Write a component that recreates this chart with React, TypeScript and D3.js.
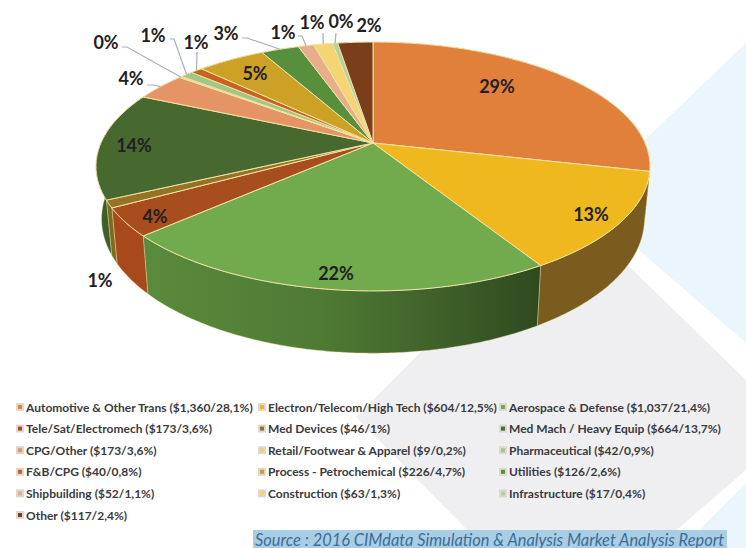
import React from "react";
import * as d3 from "d3";

// Sector names and their spend, in the order they run clockwise from twelve o'clock.
const sectors = [
  "Automotive & Other Trans", "Electron/Telecom/High Tech", "Aerospace & Defense",
  "Tele/Sat/Electromech", "Med Devices", "Med Mach / Heavy Equip",
  "CPG/Other", "Retail/Footwear & Apparel", "Pharmaceutical",
  "F&B/CPG", "Process - Petrochemical", "Utilities",
  "Shipbuilding", "Construction", "Infrastructure",
  "Other",
];
const spend = [1360, 604, 1037, 173, 46, 664, 173, 9, 42, 40, 226, 126, 52, 63, 17, 117];
const legendNotes = [
  "($1,360/28,1%)", "($604/12,5%)", "($1,037/21,4%)",
  "($173/3,6%)", "($46/1%)", "($664/13,7%)",
  "($173/3,6%)", "($9/0,2%)", "($42/0,9%)",
  "($40/0,8%)", "($226/4,7%)", "($126/2,6%)",
  "($52/1,1%)", "($63/1,3%)", "($17/0,4%)",
  "($117/2,4%)",
];

const topColors = [
  "#e1803b", "#efb81f", "#72ab4e", "#a84e1e", "#957325", "#47692f", "#e59465", "#f3cf6e",
  "#a0c884", "#c8621f", "#cda126", "#588f3c", "#e8ad8b", "#f3d573", "#b5d29a", "#7a3f1a",
];
const wallColors = [
  "#9c5526", "#7a5c1f", "url(#frontWall)", "#a8491b", "#7e6b20", "#3f5f2a", "#a5653d", "#a88b3c",
  "#6f8d5a", "#8a4415", "#8d6f1a", "#3d6329", "#a07658", "#a8924c", "#7f946b", "#542b12",
];

// Percent label centres; slices that carry a leader also list where it leaves the label.
const labelAt: [number, number][] = [
  [497, 86], [591, 214], [336, 273], [155, 216], [100, 280], [134, 145], [131, 78], [106, 42],
  [153, 35], [196, 42], [255, 73], [226, 33], [283, 32], [312, 22], [341, 21], [369, 25],
];
const leaderFrom: Record<number, [number, number][]> = {
  6: [[147, 85], [153, 85]],
  7: [[122, 47], [127, 47]],
  8: [[170, 39], [174, 39]],
  9: [[197, 52]],
  11: [[242, 38], [247, 38]],
  12: [[298, 36], [302, 36]],
  13: [[323, 33]],
  14: [[336, 33]],
};

const W = 746;
const H = 548;

// Perspective disc: b runs from back (-1) to front (+1), nearer points spread further.
const cx = 373;
const cy = 143;
const radiusX = 272;
const radiusY = 120;
const tilt = 0.1887;
const depth = 50.5;
const baseShrink = 0.98;

const project = (angle: number, r = 1): [number, number] => {
  const a = Math.sin(angle) * r;
  const b = -Math.cos(angle) * r;
  const s = 1 / (1 - tilt * b);
  return [cx + radiusX * a * s, cy + radiusY * b * s];
};
const projectBase = (angle: number): [number, number] => {
  const b = -Math.cos(angle);
  const s = 1 / (1 - tilt * b);
  const [x, y] = project(angle);
  return [cx + (x - cx) * baseShrink, y + depth * s];
};

const arcs = d3.pie<number>().sort(null).value((d) => d)(spend);
const line = d3.line<[number, number]>();
const percent = d3.format(".0%");
const total = d3.sum(spend);

const samples = (a0: number, a1: number) => {
  const n = Math.max(2, Math.ceil((a1 - a0) / 0.01));
  return d3.range(n + 1).map((i) => a0 + ((a1 - a0) * i) / n);
};

const topPath = (a0: number, a1: number) =>
  line([[cx, cy], ...samples(a0, a1).map((t) => project(t))])! + "Z";
const wallPath = (a0: number, a1: number) => {
  const ts = samples(a0, a1);
  return line([...ts.map((t) => project(t)), ...ts.slice().reverse().map(projectBase)])! + "Z";
};

const columnX = [16, 258, 499];
const rowY = d3.scaleLinear().domain([0, 5]).range([407, 515]);

export default function App() {
  return (
    <svg
      width={W}
      height={H}
      viewBox={`0 0 ${W} ${H}`}
      style={{ position: "absolute", left: 0, top: 0, display: "block", background: "#fff" }}
    >
      <defs>
        <linearGradient id="frontWall" gradientUnits="userSpaceOnUse" x1={146} x2={540} y1={0} y2={0}>
          <stop offset="0" stopColor="#5a8a3d" />
          <stop offset="0.45" stopColor="#4e7a33" />
          <stop offset="0.75" stopColor="#3f6029" />
          <stop offset="1" stopColor="#2f4a20" />
        </linearGradient>
      </defs>

      {/* Backdrop shapes */}
      <polygon points="746,43 746,343 662,270 582,200 650,135" fill="#eaf5fc" />
      <polygon points="746,483 746,548 682,548" fill="#eaf5fc" />
      <polygon points="356,417 567,206 746,380 746,470 650,553 485,548" fill="#efeff1" />

      {/* Side wall of the drum */}
      {arcs.map((d, i) => (
        <path
          key={i}
          d={wallPath(d.startAngle, d.endAngle)}
          fill={wallColors[i]}
          stroke="#e9dca0"
          strokeWidth={0.6}
          strokeOpacity={0.7}
        />
      ))}

      {/* Top face */}
      {arcs.map((d, i) => (
        <path
          key={i}
          d={topPath(d.startAngle, d.endAngle)}
          fill={topColors[i]}
          stroke="#f3e3a6"
          strokeWidth={1}
          strokeLinejoin="round"
        />
      ))}

      {/* Leaders from the small slices to the rim */}
      {Object.entries(leaderFrom).map(([k, pts]) => {
        const i = +k;
        const mid = (arcs[i].startAngle + arcs[i].endAngle) / 2;
        return (
          <path
            key={k}
            d={line([...pts, project(mid)])!}
            fill="none"
            stroke="#a6afbd"
            strokeWidth={1.2}
          />
        );
      })}

      {/* Percent labels */}
      {arcs.map((d, i) => (
        <text
          key={i}
          x={labelAt[i][0]}
          y={labelAt[i][1]}
          textAnchor="middle"
          dominantBaseline="central"
          fontFamily="Lato, sans-serif"
          fontWeight={700}
          fontSize={18}
          fill="#1f2022"
        >
          {percent(d.value / total)}
        </text>
      ))}

      {/* Legend */}
      {sectors.map((name, i) => {
        const x = columnX[i % 3];
        const y = rowY(Math.floor(i / 3));
        return (
          <g key={name}>
            <rect x={x} y={y - 4} width={8} height={8} fill="#ddd8d2" />
            <rect x={x + 2} y={y - 2} width={4} height={4} fill={topColors[i]} />
            <text
              x={x + 10}
              y={y}
              dominantBaseline="central"
              fontFamily="Lato, sans-serif"
              fontWeight={700}
              fontSize={12}
              fill="#3a3a40"
            >
              {name} {legendNotes[i]}
            </text>
          </g>
        );
      })}

      {/* Source strip */}
      <rect x={253} y={530} width={474} height={18} fill="#a9cde4" />
      <text
        x={255}
        y={539.5}
        dominantBaseline="central"
        fontFamily="Lato, sans-serif"
        fontStyle="italic"
        fontSize={16.4}
        fill="#3b6d98"
      >
        Source : 2016 CIMdata Simulation &amp; Analysis Market Analysis Report
      </text>
    </svg>
  );
}
